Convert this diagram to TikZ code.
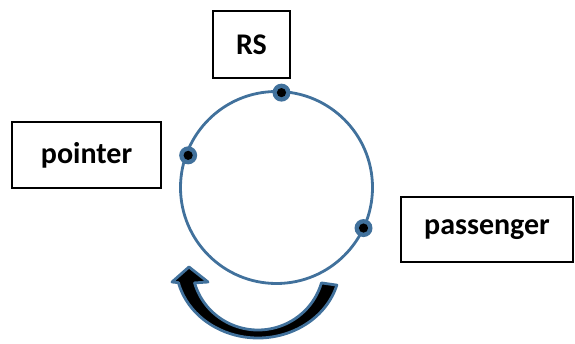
\documentclass[tikz,border=0pt]{standalone}
\usepackage{fontspec}
\setmainfont{Carlito}
\usetikzlibrary{calc}
\definecolor{ringblue}{RGB}{65,113,156}
\tikzset{
  label box/.style={draw=black, line width=1.4pt, inner sep=0pt, font=\bfseries\fontsize{30}{36}\selectfont},
  stop dot/.style={circle, fill=ringblue, minimum size=18pt, inner sep=0pt,
    path picture={\fill[black] (path picture bounding box.center) circle (4.6);}}
}
\begin{document}
\begin{tikzpicture}[x=1pt, y=1pt]
  \useasboundingbox (0,0) rectangle (575,344);
  % boxes
  \node[label box, minimum width=77pt, minimum height=67pt] (rs) at (251.5, 299.5) {RS};
  \node[label box, minimum width=149pt, minimum height=66pt] (pointer) at (86.5, 189) {pointer};
  \node[label box, minimum width=172pt, minimum height=65pt] (passenger) at (487, 114.5) {passenger};
  % ring and its stops
  \coordinate (c) at (276.5, 156.5);
  \draw[ringblue, line width=2.8pt] (c) circle (96);
  \node[stop dot] (d0) at ($(c)+(87:95)$) {};
  \node[stop dot] (d1) at ($(c)+(160:94)$) {};
  \node[stop dot] (d2) at ($(c)+(-25:96)$) {};
  % turning arrow
  \coordinate (a) at (258, 79);
  \filldraw[fill=black, draw=ringblue, line width=2.8pt, line join=round]
    ($(a)+(-16:82 and 73)$) arc[start angle=-16, end angle=-166, x radius=82, y radius=73]
    -- (172, 62) -- (189, 77) -- (208, 62)
    -- ($(a)+(-164:66 and 65)$) arc[start angle=-164, end angle=-16, x radius=66, y radius=65]
    -- cycle;
\end{tikzpicture}
\end{document}
